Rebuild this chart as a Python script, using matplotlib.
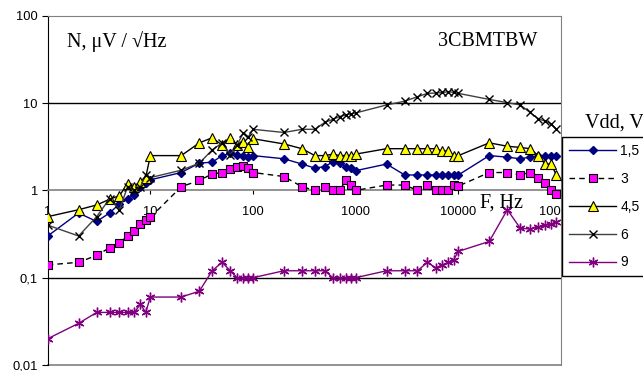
import matplotlib
matplotlib.use('Agg')
import matplotlib.pyplot as plt

# frequencies, Hz
freq = [1, 2, 3, 4, 5, 6, 7, 8, 9, 10,
        20, 30, 40, 50, 60, 70, 80, 90, 100,
        200, 300, 400, 500, 600, 700, 800, 900, 1000,
        2000, 3000, 4000, 5000, 6000, 7000, 8000, 9000, 10000,
        20000, 30000, 40000, 50000, 60000, 70000, 80000, 90000]

# noise, uV/sqrt(Hz), for each Vdd
n_15 = [0.30, 0.55, 0.44, 0.55, 0.70, 0.80, 0.89, 1.1, 1.2, 1.32,
        1.6, 2.05, 2.1, 2.5, 2.65, 2.55, 2.5, 2.4, 2.5,
        2.3, 2.0, 1.8, 1.87, 2.13, 2.05, 1.87, 1.8, 1.68,
        2.0, 1.5, 1.5, 1.5, 1.5, 1.5, 1.5, 1.5, 1.5,
        2.5, 2.4, 2.3, 2.4, 2.45, 2.5, 2.5, 2.5]
n_3 = [0.14, 0.15, 0.18, 0.22, 0.25, 0.30, 0.34, 0.41, 0.46, 0.49,
       1.1, 1.3, 1.54, 1.6, 1.75, 1.85, 1.9, 1.8, 1.6,
       1.44, 1.1, 1.0, 1.1, 1.0, 1.0, 1.3, 1.15, 1.0,
       1.15, 1.15, 1.0, 1.15, 1.0, 1.0, 1.0, 1.15, 1.12,
       1.6, 1.6, 1.5, 1.6, 1.4, 1.2, 1.0, 0.9]
n_45 = [0.5, 0.6, 0.68, 0.79, 0.87, 1.19, 1.09, 1.24, 1.4, 2.5,
        2.5, 3.5, 4.0, 3.3, 4.0, 3.3, 3.6, 3.1, 3.9,
        3.4, 3.0, 2.5, 2.5, 2.6, 2.5, 2.5, 2.5, 2.6,
        3.0, 3.0, 3.0, 3.0, 3.0, 2.8, 2.85, 2.5, 2.5,
        3.5, 3.2, 3.1, 3.0, 2.5, 2.0, 2.0, 1.5]
n_6 = [0.40, 0.30, 0.5, 0.8, 0.6, 1.1, 1.0, 1.1, 1.5, 1.4,
       1.7, 2.05, 2.9, 3.5, 2.55, 3.3, 4.5, 4.1, 5.0,
       4.6, 5.0, 5.0, 6.0, 6.5, 7.0, 7.3, 7.5, 7.7,
       9.5, 10.5, 11.8, 12.9, 13.0, 13.2, 13.5, 13.2, 12.9,
       11.0, 10.1, 9.5, 7.8, 6.6, 6.2, 5.8, 5.0]
n_9 = [0.02, 0.03, 0.04, 0.04, 0.04, 0.04, 0.04, 0.05, 0.04, 0.06,
       0.06, 0.07, 0.12, 0.15, 0.12, 0.1, 0.1, 0.1, 0.1,
       0.12, 0.12, 0.12, 0.12, 0.1, 0.1, 0.1, 0.1, 0.1,
       0.12, 0.12, 0.12, 0.15, 0.13, 0.14, 0.15, 0.16, 0.2,
       0.26, 0.6, 0.37, 0.36, 0.38, 0.40, 0.41, 0.43]

x_ticks = [1, 10, 100, 1000, 10000, 100000]
x_labels = ['1', '10', '100', '1000', '10000', '100000']
y_ticks = [0.01, 0.1, 1, 10, 100]
y_labels = ['0,01', '0,1', '1', '10', '100']

plt.rcParams['font.family'] = ['Liberation Sans', 'DejaVu Sans']
serif = ['Liberation Serif', 'DejaVu Serif']

fig = plt.figure(figsize=(6.43, 3.71), dpi=100)
ax = fig.add_axes([47.7 / 643, 6 / 371, (561 - 47.7) / 643, (365 - 15.7) / 371])

ax.set_xscale('log')
ax.set_yscale('log')
ax.set_xlim(1, 100000)
ax.set_ylim(0.01, 100)

# horizontal gridlines
for g in [10, 0.1]:
    ax.axhline(g, color='black', lw=1, zorder=1)
ax.axhline(0.01, color='#808080', lw=1.2, zorder=1, clip_on=False)

ax.plot(freq, n_15, color='#000080', lw=1, marker='D', ms=4.5,
        mfc='#000080', mec='#000080', label='1,5', zorder=3)
ax.plot(freq, n_3, color='black', lw=1, ls=(0, (4, 3)), marker='s', ms=6,
        mfc='#FF00FF', mec='black', mew=0.8, label='3', zorder=3)
ax.plot(freq, n_45, color='black', lw=1, marker='^', ms=6.5,
        mfc='#FFFF00', mec='black', mew=0.8, label='4,5', zorder=3)
ax.plot(freq, n_6, color='#404040', lw=1, marker='x', ms=6,
        mec='black', mew=1, label='6', zorder=3)
ax.plot(freq, n_9, color='#800080', lw=1, marker=(6, 2, 0), ms=7,
        mec='#800080', mew=1, label='9', zorder=3)

# x axis crosses at y = 1
ax.spines['bottom'].set_position(('data', 1))
ax.spines['bottom'].set_color('#808080')
ax.spines['bottom'].set_linewidth(1.2)
ax.spines['top'].set_color('#808080')
ax.spines['right'].set_color('#808080')
ax.spines['left'].set_color('black')

ax.set_xticks(x_ticks)
ax.set_xticklabels(x_labels)
ax.set_yticks(y_ticks)
ax.set_yticklabels(y_labels)
ax.minorticks_off()
ax.tick_params(axis='x', direction='out', length=3, pad=8, labelsize=9.3,
               color='black')
ax.tick_params(axis='y', direction='out', length=4, pad=3, labelsize=9.3)

ax.text(67 / 643, 1 - 42 / 371, 'N, μV / √Hz', transform=fig.transFigure,
        family=serif, fontsize=14.5, va='center', ha='left')
ax.text(537 / 643, 1 - 42 / 371, '3CBMTBW', transform=fig.transFigure,
        family=serif, fontsize=14.5, va='center', ha='right')
ax.text(480 / 643, 1 - 203 / 371, 'F, Hz', transform=fig.transFigure,
        family=serif, fontsize=14.5, va='center', ha='left')

leg = ax.legend(loc='upper left', bbox_to_anchor=(562 / 643, 1 - 137 / 371),
                bbox_transform=fig.transFigure, borderaxespad=0, fontsize=10,
                frameon=True, fancybox=False, framealpha=1, edgecolor='black',
                labelspacing=1.0, handlelength=3.4, handletextpad=0.3,
                borderpad=0.5)
leg.get_frame().set_linewidth(1)
fig.text(585 / 643, 1 - 123 / 371, 'Vdd, V', family=serif, fontsize=14.5,
         va='center', ha='left')

fig.savefig('out.png', dpi=100)
